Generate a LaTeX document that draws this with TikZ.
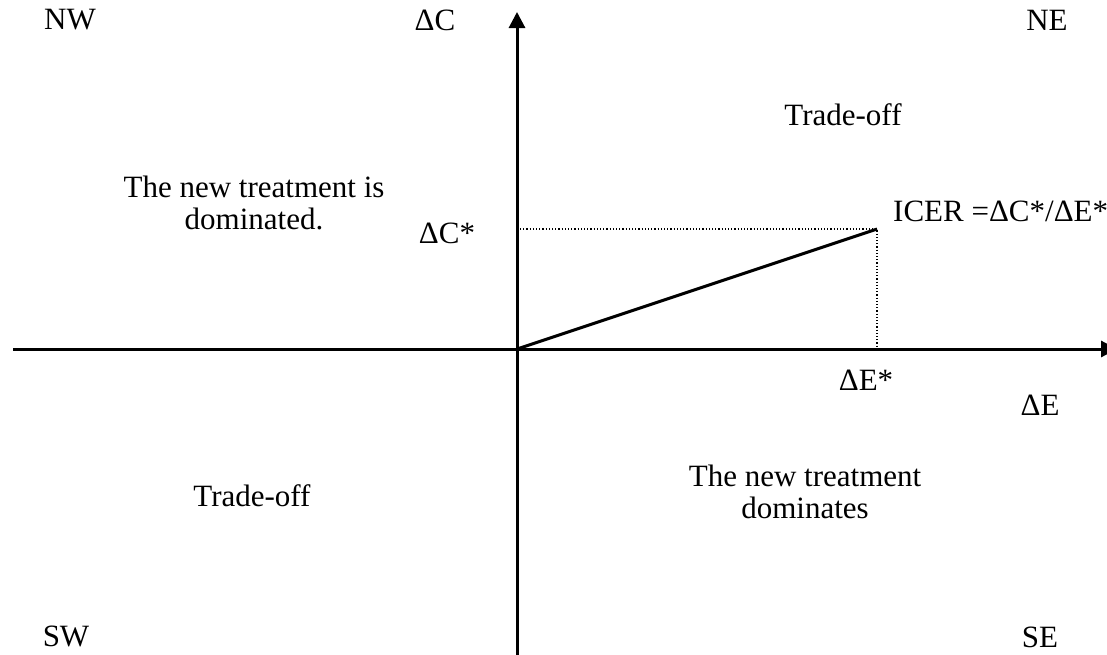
\documentclass[tikz,border=0pt]{standalone}
\usepackage{fontspec}
\setmainfont{Liberation Serif}
\usepackage{tikz}
\usetikzlibrary{arrows.meta,calc}
\tikzset{
  axis/.style={-{Triangle[length=16pt,width=16pt]},line width=3pt},
  ratio/.style={line width=3pt},
  guide/.style={dotted,line width=1.2pt},
  lbl/.style={font=\fontsize{31}{32}\selectfont,inner sep=0pt,align=center},
}
\begin{document}
\begin{tikzpicture}[x=1pt,y=-1pt]
  \useasboundingbox (0,0) rectangle (1107,654);
  % axes
  \coordinate (o) at (517,349);
  \coordinate (xstart) at (13,349);
  \coordinate (xend) at (1117,349);
  \coordinate (ybot) at (517,664);
  \coordinate (ytop) at (517,12);
  \draw[axis] (xstart) -- (xend);
  \draw[axis] (ybot) -- (ytop);
  % ICER point and guides
  \coordinate (icerpt) at (877,229);
  \draw[ratio] (o) -- (icerpt);
  \draw[guide] ($(o |- icerpt)+(3,0)$) -- (icerpt) -- (icerpt |- o);
  % quadrant names
  \node[lbl] (nw) at (70,20) {NW};
  \node[lbl] (ne) at (1047,20) {NE};
  \node[lbl] (sw) at (66,636) {SW};
  \node[lbl] (se) at (1040,637) {SE};
  % axis labels
  \node[lbl] (dc) at (435,20) {ΔC};
  \node[lbl] (de) at (1040,405) {ΔE};
  \node[lbl] (dcstar) at (447,233) {ΔC*};
  \node[lbl] (destar) at (866,380) {ΔE*};
  \node[lbl,anchor=west] (icer) at (893,211) {ICER =ΔC*/ΔE*};
  % quadrant texts
  \node[lbl] (tradene) at (843,115) {Trade-off};
  \node[lbl] (dominated) at (254,203) {The new treatment is\\dominated.};
  \node[lbl] (dominates) at (805,492) {The new treatment\\dominates};
  \node[lbl] (tradesw) at (252,496) {Trade-off};
\end{tikzpicture}
\end{document}
